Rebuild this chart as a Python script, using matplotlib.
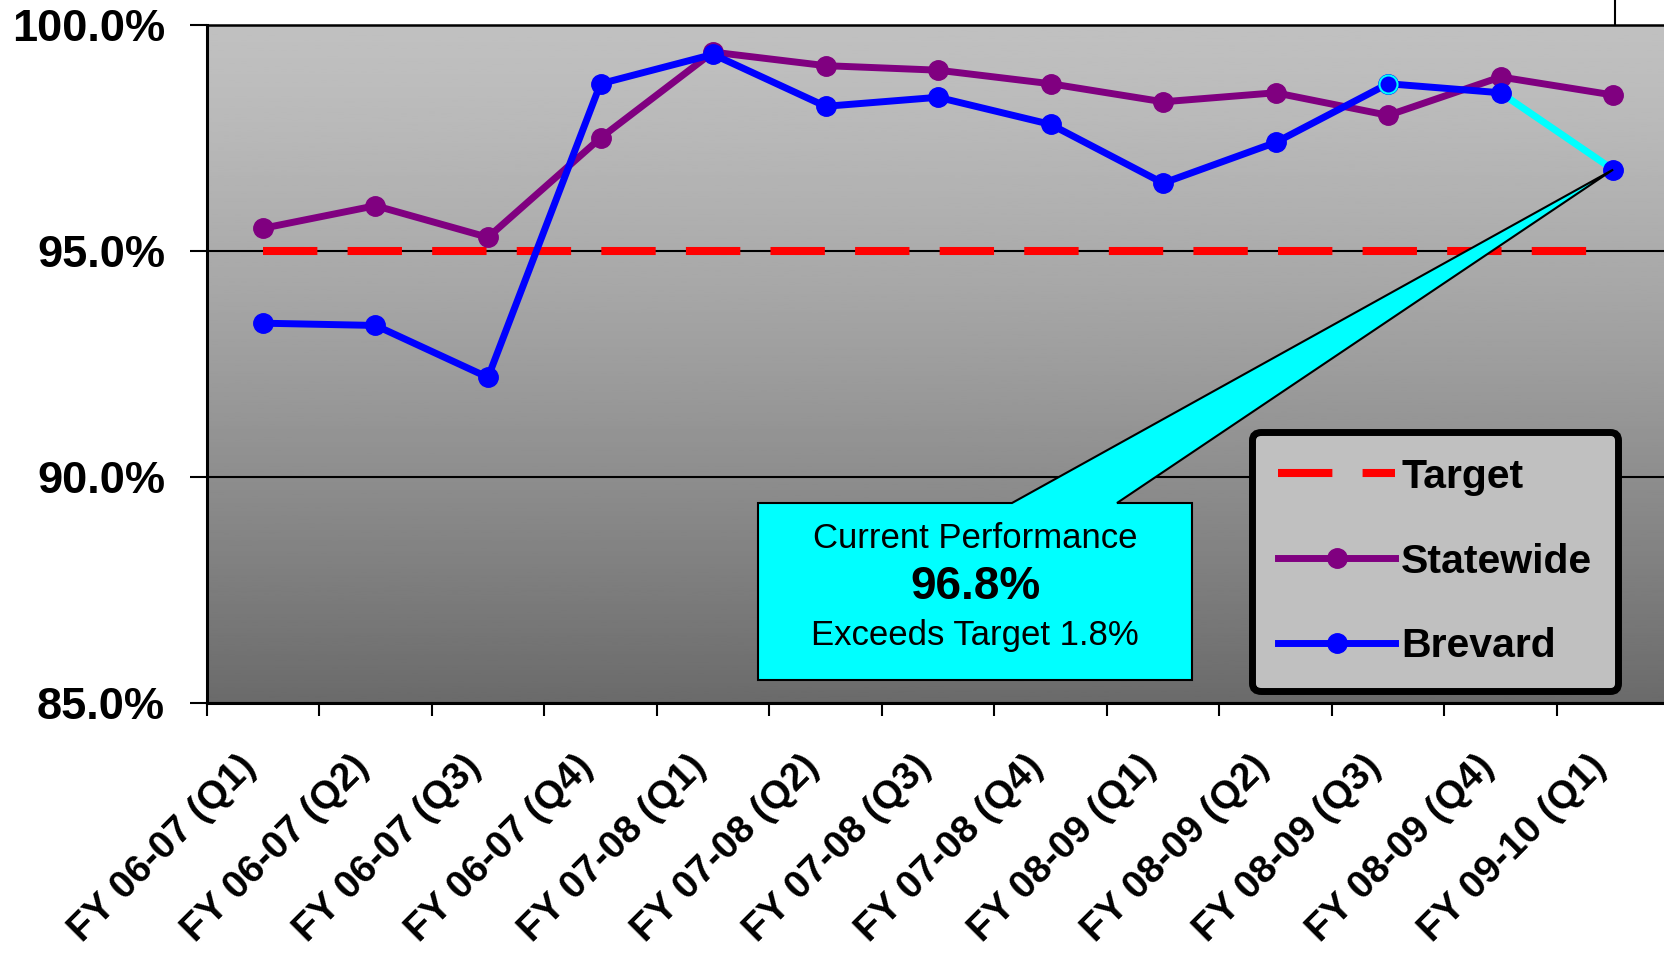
import numpy as np
import matplotlib
matplotlib.use("Agg")
import matplotlib.pyplot as plt
from matplotlib.patches import Polygon
from matplotlib.lines import Line2D

# ---- data ----
quarters = [
    "FY 06-07 (Q1)", "FY 06-07 (Q2)", "FY 06-07 (Q3)", "FY 06-07 (Q4)",
    "FY 07-08 (Q1)", "FY 07-08 (Q2)", "FY 07-08 (Q3)", "FY 07-08 (Q4)",
    "FY 08-09 (Q1)", "FY 08-09 (Q2)", "FY 08-09 (Q3)", "FY 08-09 (Q4)",
    "FY 09-10 (Q1)",
]
statewide = [95.5, 96.0, 95.3, 97.5, 99.4, 99.1, 99.0, 98.7, 98.3, 98.5, 98.0, 98.85, 98.45]
brevard = [93.4, 93.35, 92.2, 98.7, 99.35, 98.2, 98.4, 97.8, 96.5, 97.4, 98.7, 98.5, 96.8]
target = [95.0] * len(quarters)

y_ticks = [85, 90, 95, 100]
y_tick_labels = ["85.0%", "90.0%", "95.0%", "100.0%"]

callout_lines = ["Current Performance", "96.8%", "Exceeds Target 1.8%"]

W, H = 1664, 958
plt.rcParams["font.family"] = ["Liberation Sans", "DejaVu Sans"]

PURPLE = "#800080"
BLUE = "#0000FF"
CYAN = "#00FFFF"
RED = "#FF0000"


def px(x, y):
    # pixel position (from top-left) -> figure fraction
    return (x / W, 1 - y / H)


fig = plt.figure(figsize=(W / 100, H / 100), dpi=100)
fig.patch.set_facecolor("white")
ax = fig.add_axes([206.7 / W, 1 - 702.7 / H, 1462.7 / W, 677.7 / H])

x = np.arange(len(quarters))
ax.set_xlim(-0.5, len(quarters) - 0.5)
ax.set_ylim(85, 100)

# gradient plot background (light grey at top, dark grey at bottom)
t = np.linspace(0, 1, 256)[:, None]
grad = 0.753 - 0.335 * t ** 1.3
ax.imshow(grad, extent=(-0.5, len(quarters) - 0.5, 85, 100), aspect="auto",
          cmap="gray", vmin=0, vmax=1, zorder=0, origin="upper")

ax.yaxis.grid(True, color="black", linewidth=1.5)
ax.set_axisbelow(True)

# target
ax.plot(x, target, color=RED, linewidth=5.8, dashes=(6.75, 3.75),
        solid_capstyle="butt", dash_capstyle="butt", zorder=2, label="Target")

# statewide
ax.plot(x, statewide, color=PURPLE, linewidth=5, marker="o", markersize=14,
        zorder=3, label="Statewide")

# brevard: last segment highlighted in cyan
ax.plot(x[:-1], brevard[:-1], color=BLUE, linewidth=5, zorder=4)
ax.plot(x[-2:], brevard[-2:], color=CYAN, linewidth=5, zorder=4)
ax.plot(x, brevard, linestyle="none", marker="o", markersize=14,
        color=BLUE, zorder=5)
ax.plot(x[10], brevard[10], linestyle="none", marker="o", markersize=13,
        markerfacecolor=BLUE, markeredgecolor=CYAN, markeredgewidth=1.5, zorder=5)
brevard_handle = Line2D([], [], color=BLUE, linewidth=5, marker="o", markersize=14)

# axes styling
ax.set_yticks(y_ticks)
ax.set_yticklabels(y_tick_labels, fontsize=32.5, fontweight="bold")
ax.tick_params(axis="y", length=12, width=1.5, pad=18, color="black")

ax.set_xticks(x)
ax.set_xticklabels(quarters, rotation=45, ha="right", va="top",
                   fontsize=28, fontweight="bold")
ax.tick_params(axis="x", which="major", length=0, pad=33)
ax.set_xticks(np.arange(-0.5, len(quarters), 1), minor=True)
ax.tick_params(axis="x", which="minor", length=9.5, width=1.5, color="black")

for side in ["left", "bottom"]:
    ax.spines[side].set_linewidth(2.2)
ax.spines["top"].set_linewidth(1.8)
ax.spines["right"].set_visible(False)

# legend
handles, labels = ax.get_legend_handles_labels()
handles.append(brevard_handle)
labels.append("Brevard")
leg = ax.legend(handles, labels, loc="upper right",
                bbox_to_anchor=px(1618, 432), bbox_transform=fig.transFigure,
                borderaxespad=0, prop={"weight": "bold", "size": 29.5},
                handlelength=2.85, handletextpad=0.15, borderpad=0.63,
                labelspacing=1.14, numpoints=1, fancybox=True, framealpha=1)
leg.get_frame().set_facecolor("#C0C0C0")
leg.get_frame().set_edgecolor("black")
leg.get_frame().set_linewidth(5)
leg.set_zorder(10)

# callout box with wedge pointing at the latest Brevard value
fig.canvas.draw()
tip_disp = ax.transData.transform((x[-1], brevard[-1]))
tip = fig.transFigure.inverted().transform(tip_disp)
verts = [px(758, 503), px(1012, 503), tuple(tip), px(1117, 503),
         px(1192, 503), px(1192, 680), px(758, 680)]
callout = Polygon(verts, closed=True, facecolor=CYAN, edgecolor="black",
                  linewidth=1.5, transform=fig.transFigure, zorder=8)
ax.add_artist(callout)
callout.set_clip_on(False)

cx = 975
fig.text(*px(cx, 539), callout_lines[0], ha="center", va="center", fontsize=25, zorder=9)
fig.text(*px(cx, 587), callout_lines[1], ha="center", va="center", fontsize=33,
         fontweight="bold", zorder=9)
fig.text(*px(cx, 635), callout_lines[2], ha="center", va="center", fontsize=25, zorder=9)

# small border stub at the top right
fig.add_artist(Line2D([1615 / W, 1615 / W], [1.0, 1 - 25 / H], color="black", linewidth=1.5))

fig.savefig("out.png", dpi=100)
